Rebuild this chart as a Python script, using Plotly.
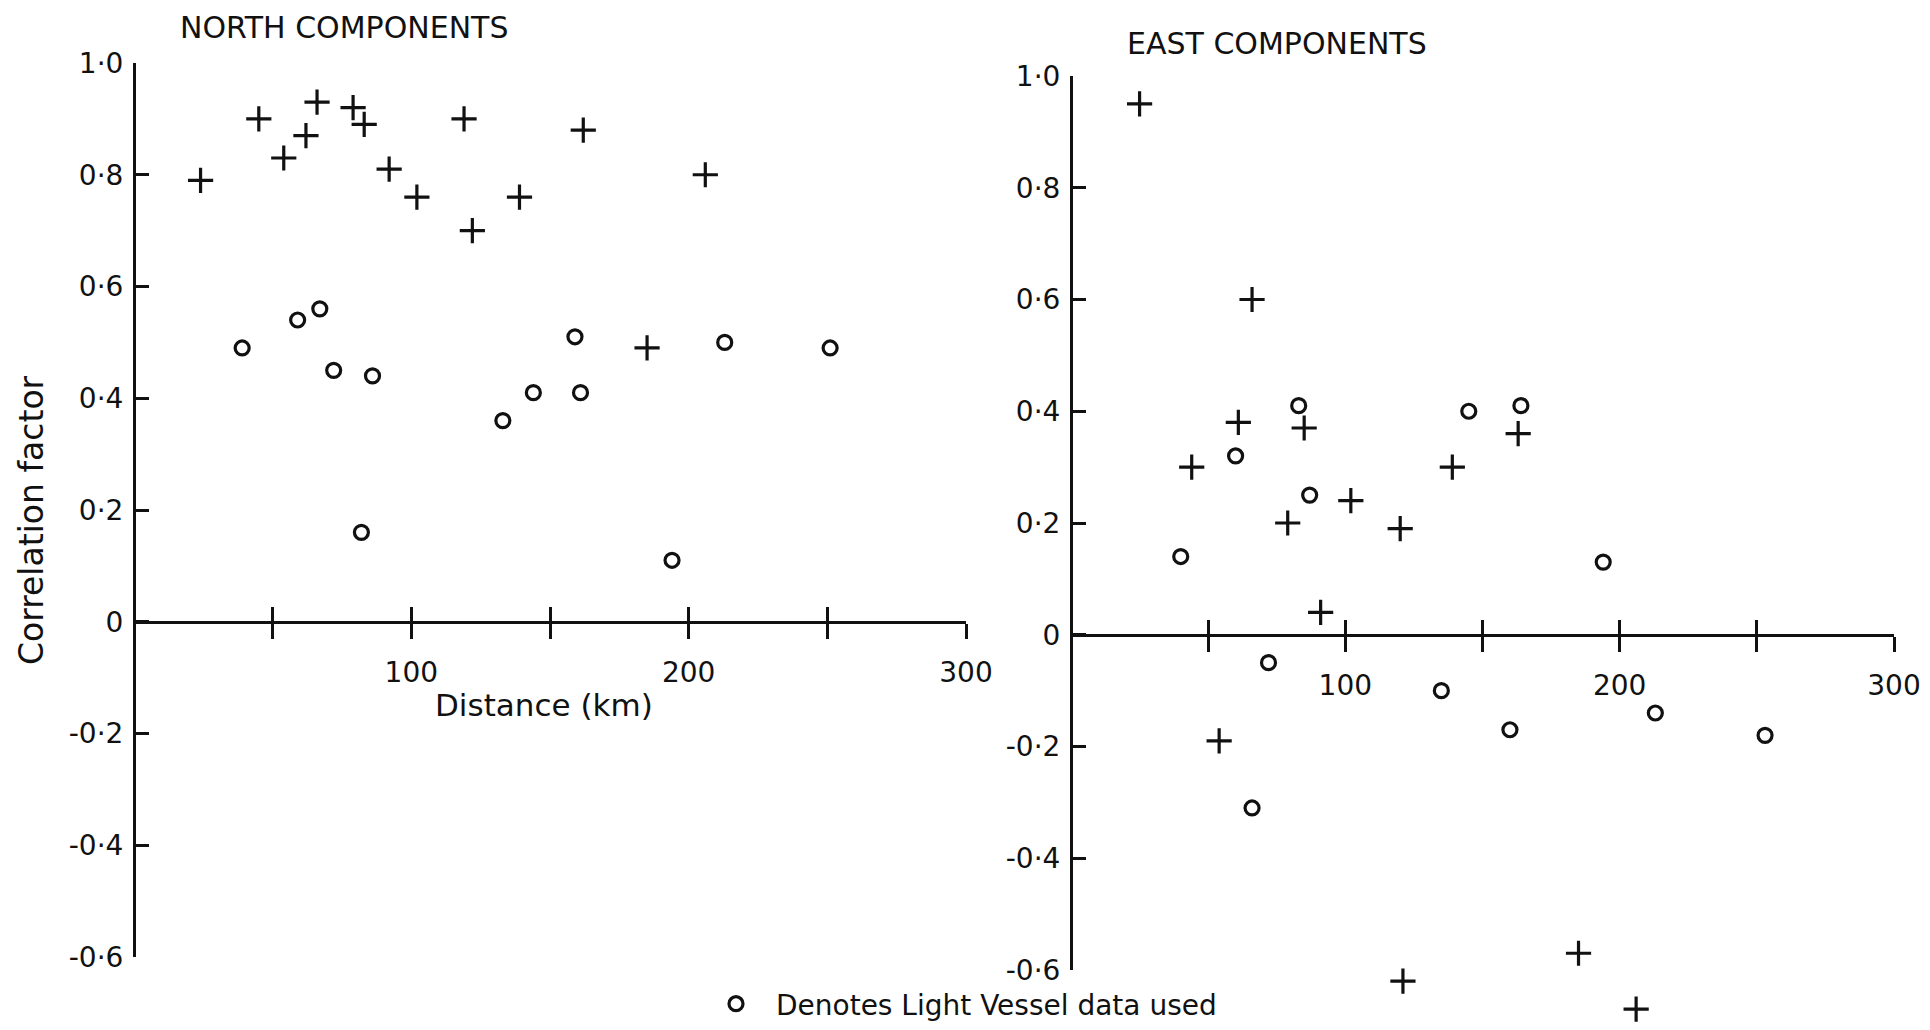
import plotly.graph_objects as go

# page is 1930x1030; the browser adds an 8px body margin round the figure
PAGE_W, PAGE_H, OFF = 1930, 1030, 8
W, H = PAGE_W - 2 * OFF, PAGE_H - 2 * OFF

# ---------------- data ----------------
north_plus_x = [24, 45, 54, 62, 66, 79, 83, 92, 102, 119, 122, 139, 162, 185, 206]
north_plus_y = [0.79, 0.90, 0.83, 0.87, 0.93, 0.92, 0.89, 0.81, 0.76, 0.90, 0.70, 0.76, 0.88, 0.49, 0.80]

north_circle_x = [39, 59, 67, 72, 86, 133, 144, 159, 161, 213, 251, 82, 194]
north_circle_y = [0.49, 0.54, 0.56, 0.45, 0.44, 0.36, 0.41, 0.51, 0.41, 0.50, 0.49, 0.16, 0.11]

east_plus_x = [25, 66, 61, 85, 44, 139, 102, 163, 79, 120, 91, 54, 121, 185, 206]
east_plus_y = [0.95, 0.60, 0.38, 0.37, 0.30, 0.30, 0.24, 0.36, 0.20, 0.19, 0.04, -0.19, -0.62, -0.57, -0.67]

east_circle_x = [83, 145, 164, 60, 87, 40, 194, 72, 135, 160, 213, 253, 66]
east_circle_y = [0.41, 0.40, 0.41, 0.32, 0.25, 0.14, 0.13, -0.05, -0.10, -0.17, -0.14, -0.18, -0.31]

y_tickvals = [-0.6, -0.4, -0.2, 0, 0.2, 0.4, 0.6, 0.8, 1.0]
y_ticktext = ["-0·6", "-0·4", "-0·2", "0", "0·2", "0·4", "0·6", "0·8", "1·0"]
x_tickvals = [50, 100, 150, 200, 250, 300]
x_ticktext = ["", "100", "", "200", "", "300"]

titles = ["NORTH COMPONENTS", "EAST COMPONENTS"]
x_title = "Distance (km)"
y_title = "Correlation factor"
legend_text = "Denotes Light Vessel data used"

# ---------------- layout geometry (page pixels) ----------------
YMIN, YMAX = -0.6, 1.0
YMIN_EXT = -0.68   # room for the East points plotted below the axis end
XMIN, XMAX = 0, 300

def px_x(p):
    return (p - OFF) / W

def px_y(p):
    return 1 - (p - OFF) / H

# left panel
L_x0, L_x1 = 134, 966
L_ytop, L_ybot = 63, 957
# right panel
R_x0, R_x1 = 1071, 1894
R_ytop, R_ybot = 76, 970
R_ybot_ext = R_ybot + (YMIN - YMIN_EXT) * (R_ybot - R_ytop) / (YMAX - YMIN)

def zero_pos(ytop, ybot):
    b, t = px_y(ybot), px_y(ytop)
    return b + (0 - YMIN) / (YMAX - YMIN) * (t - b)

FONT = "DejaVu Sans, sans-serif"
BLACK = "#111111"

fig = go.Figure()

plus_marker = dict(symbol="cross-thin", size=18, line=dict(width=3.2, color=BLACK), color=BLACK)
circ_marker = dict(symbol="circle-open", size=14, line=dict(width=3.2, color=BLACK), color=BLACK)

fig.add_trace(go.Scatter(x=north_plus_x, y=north_plus_y, mode="markers", marker=plus_marker,
                         xaxis="x", yaxis="y", showlegend=False, cliponaxis=False))
fig.add_trace(go.Scatter(x=north_circle_x, y=north_circle_y, mode="markers", marker=circ_marker,
                         xaxis="x", yaxis="y", name=legend_text, showlegend=True, cliponaxis=False))
fig.add_trace(go.Scatter(x=east_plus_x, y=east_plus_y, mode="markers", marker=plus_marker,
                         xaxis="x2", yaxis="y2", showlegend=False, cliponaxis=False))
fig.add_trace(go.Scatter(x=east_circle_x, y=east_circle_y, mode="markers", marker=circ_marker,
                         xaxis="x2", yaxis="y2", showlegend=False, cliponaxis=False))
# empty traces so the decoration-only axes get drawn
fig.add_trace(go.Scatter(x=[], y=[], xaxis="x3", yaxis="y", showlegend=False, hoverinfo="skip"))
fig.add_trace(go.Scatter(x=[], y=[], xaxis="x4", yaxis="y2", showlegend=False, hoverinfo="skip"))
fig.add_trace(go.Scatter(x=[], y=[], xaxis="x2", yaxis="y4", showlegend=False, hoverinfo="skip"))

tickfont = dict(family=FONT, size=28, color=BLACK)

def yax(ytop, ybot, x0):
    return dict(domain=[px_y(ybot), px_y(ytop)], range=[YMIN, YMAX], anchor="free",
                position=px_x(x0), showline=True, linewidth=3, linecolor=BLACK,
                ticks="inside", ticklen=13, tickwidth=3, tickcolor=BLACK,
                tickvals=y_tickvals, ticktext=y_ticktext, tickfont=tickfont,
                ticklabelstandoff=4, showgrid=False, zeroline=False, fixedrange=True)

def xax_main(x0, x1, pos):
    return dict(domain=[px_x(x0), px_x(x1)], range=[XMIN, XMAX], anchor="free", position=pos,
                showline=True, linewidth=3, linecolor=BLACK,
                ticks="outside", ticklen=15, tickwidth=2.5, tickcolor=BLACK,
                tickvals=x_tickvals, ticktext=x_ticktext, tickfont=tickfont,
                ticklabelstandoff=10, ticklabeloverflow="allow",
                showgrid=False, zeroline=False, fixedrange=True)

def xax_up(x0, x1, pos, over):
    return dict(domain=[px_x(x0), px_x(x1)], range=[XMIN, XMAX], anchor="free", position=pos,
                overlaying=over, side="bottom", showline=False,
                ticks="inside", ticklen=15, tickwidth=2.5, tickcolor=BLACK,
                tickvals=x_tickvals, showticklabels=False,
                showgrid=False, zeroline=False, fixedrange=True)

zl = zero_pos(L_ytop, L_ybot)
zr = zero_pos(R_ytop, R_ybot)

# right data axis: same scale as its drawn axis, but extended a little downward
y2_data = dict(domain=[px_y(R_ybot_ext), px_y(R_ytop)], range=[YMIN_EXT, YMAX], anchor="free",
               position=px_x(R_x0), visible=False, showgrid=False, zeroline=False, fixedrange=True)

fig.update_layout(
    width=W, height=H,
    margin=dict(l=0, r=0, t=0, b=0, autoexpand=False),
    paper_bgcolor="white", plot_bgcolor="rgba(0,0,0,0)",
    font=dict(family=FONT, color=BLACK),
    xaxis=xax_main(L_x0, L_x1, zl),
    yaxis=yax(L_ytop, L_ybot, L_x0),
    xaxis2=xax_main(R_x0, R_x1, zr),
    yaxis2=y2_data,
    yaxis4=yax(R_ytop, R_ybot, R_x0),
    xaxis3=xax_up(L_x0, L_x1, zl, "x"),
    xaxis4=xax_up(R_x0, R_x1, zr, "x2"),
    showlegend=True,
    legend=dict(x=px_x(696), y=px_y(1004), xanchor="left", yanchor="middle",
                font=dict(family=FONT, size=28, color=BLACK), bgcolor="rgba(0,0,0,0)",
                itemwidth=70, tracegroupgap=0),
    annotations=[
        dict(text=titles[0], x=px_x(344), y=px_y(28), xref="paper", yref="paper",
             xanchor="center", yanchor="middle",
             showarrow=False, font=dict(family=FONT, size=30, color=BLACK)),
        dict(text=titles[1], x=px_x(1277), y=px_y(44), xref="paper", yref="paper",
             xanchor="center", yanchor="middle",
             showarrow=False, font=dict(family=FONT, size=30, color=BLACK)),
        dict(text=x_title, x=px_x(544), y=px_y(705), xref="paper", yref="paper",
             xanchor="center", yanchor="middle",
             showarrow=False, font=dict(family=FONT, size=31, color=BLACK)),
        dict(text=y_title, x=px_x(31), y=px_y(520), xref="paper", yref="paper", textangle=-90,
             xanchor="center", yanchor="middle",
             showarrow=False, font=dict(family=FONT, size=33, color=BLACK)),
    ],
)

fig.write_html("out.html")
